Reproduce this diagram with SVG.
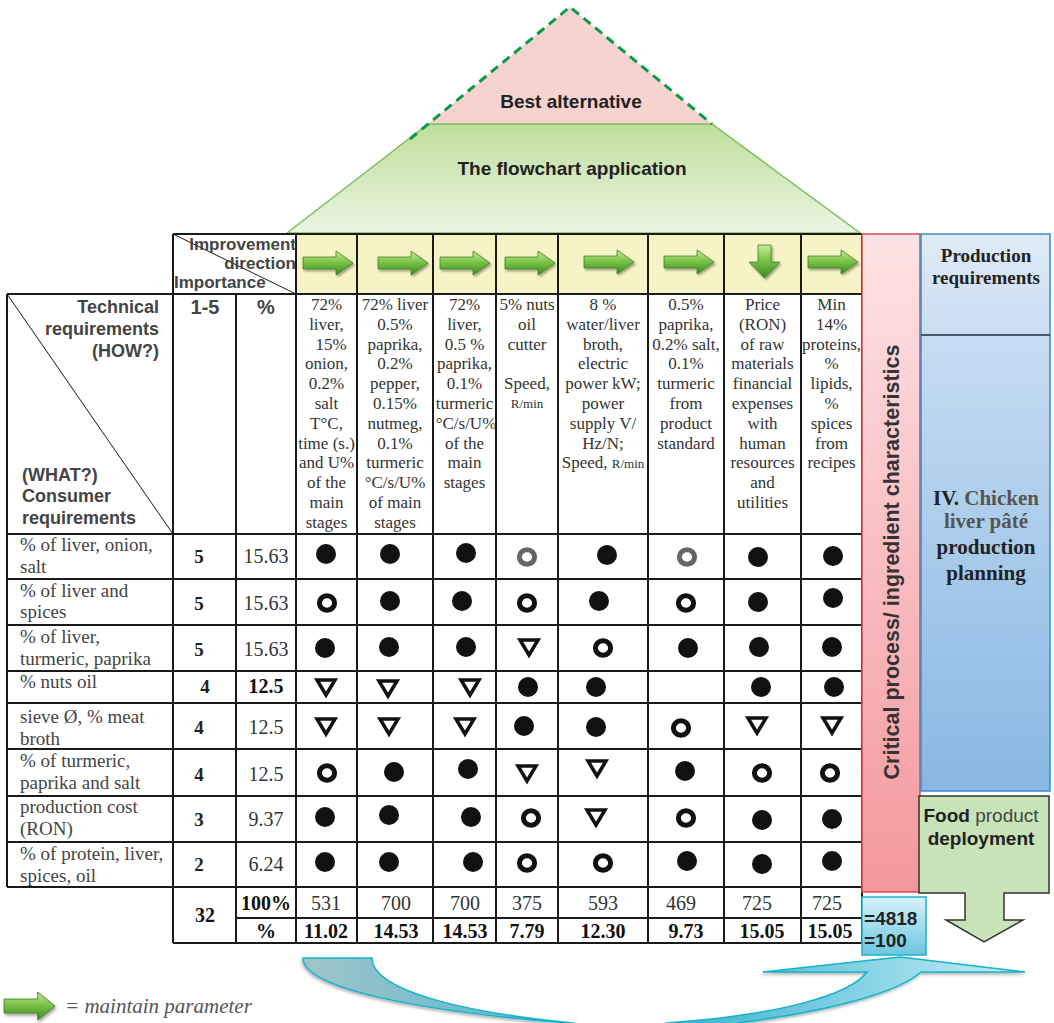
<svg xmlns="http://www.w3.org/2000/svg" width="1054" height="1023" viewBox="0 0 1054 1023">
<defs>
<linearGradient id="gArrow" x1="0" y1="0" x2="0" y2="1"><stop offset="0" stop-color="#c8ea9e"/><stop offset="0.45" stop-color="#7cc44a"/><stop offset="1" stop-color="#3d8a22"/></linearGradient>
<linearGradient id="gPink" x1="0" y1="0" x2="0" y2="1"><stop offset="0" stop-color="#fde3e5"/><stop offset="1" stop-color="#f3979c"/></linearGradient>
<linearGradient id="gBlueTop" x1="0" y1="0" x2="0" y2="1"><stop offset="0" stop-color="#dfeaf7"/><stop offset="1" stop-color="#c9ddf2"/></linearGradient>
<linearGradient id="gBlueBot" x1="0" y1="0" x2="0" y2="1"><stop offset="0" stop-color="#c6dcf2"/><stop offset="1" stop-color="#88b7e3"/></linearGradient>
<linearGradient id="gCyan" x1="0" y1="0" x2="0" y2="1"><stop offset="0" stop-color="#d8f2fa"/><stop offset="1" stop-color="#6cc6e0"/></linearGradient>
<linearGradient id="gRoof" x1="0" y1="0" x2="0" y2="1"><stop offset="0" stop-color="#bfdd9d"/><stop offset="1" stop-color="#ebf5e2"/></linearGradient>
<linearGradient id="gBig" gradientUnits="userSpaceOnUse" x1="303" y1="0" x2="1025" y2="0"><stop offset="0" stop-color="#a2c3c9"/><stop offset="0.3" stop-color="#5fbccd"/><stop offset="0.55" stop-color="#45b8d0"/><stop offset="1" stop-color="#c8edf8"/></linearGradient>
<filter id="sh" x="-20%" y="-20%" width="150%" height="160%"><feDropShadow dx="1.5" dy="2" stdDeviation="1.2" flood-color="#000" flood-opacity="0.35"/></filter>
<filter id="sh2" x="-10%" y="-30%" width="120%" height="160%"><feDropShadow dx="-1" dy="2" stdDeviation="1.5" flood-color="#000" flood-opacity="0.3"/></filter>
<path id="arR" d="M0,6 H33 V0 L50,12 L33,24 V18 H0 Z"/>
<circle id="dot" r="10"/>
<ellipse id="ring" rx="7.6" ry="7.3"/>
<path id="tri" d="M-9,-7 L9,-7 L0,8 Z"/>
<style>
.grid line{stroke:#1a1a1a;stroke-width:2}
.diag{stroke:#1a1a1a;stroke-width:1}
.ar{fill:url(#gArrow);stroke:#3f7f22;stroke-width:0.8;filter:url(#sh)}
.hd{font-family:"Liberation Serif","Times New Roman",serif;font-size:17px;fill:#333;text-anchor:middle}
.sm{font-size:13px}
.lbl{font-family:"Liberation Serif","Times New Roman",serif;font-size:19px;fill:#444}
.num{font-family:"Liberation Serif","Times New Roman",serif;font-size:20px;fill:#333;text-anchor:middle}
.imp{font-family:"Liberation Serif","Times New Roman",serif;font-size:19px;font-weight:bold;fill:#222;text-anchor:middle}
.bnum{font-family:"Liberation Serif","Times New Roman",serif;font-size:20px;font-weight:bold;fill:#111;text-anchor:middle}
.sans{font-family:"Liberation Sans",Arial,sans-serif;font-weight:bold}
.dot{fill:#111}
.ring{fill:none;stroke:#111;stroke-width:5}
.ring.g{stroke:#666}
.tri{fill:none;stroke:#111;stroke-width:3.5;stroke-linejoin:miter}
</style>
</defs>
<rect width="1054" height="1023" fill="#fff"/>

<g id="roof">
<path d="M570,7 L712,124 L428,124 Z" fill="#f7d3cf"/>
<path d="M287,233 L428,124 L712,124 L860,233 Z" fill="url(#gRoof)" stroke="#7cbf5e" stroke-width="1.5"/>
<path d="M410,139 L570,7 L712,124" fill="none" stroke="#0a9a4a" stroke-width="3" stroke-dasharray="9,6"/>
<text class="sans" x="571" y="108" font-size="19" fill="#222" text-anchor="middle">Best alternative</text>
<text class="sans" x="572" y="175" font-size="19" fill="#222" text-anchor="middle">The flowchart application</text>
</g>

<g id="table-bg">
<rect x="296" y="234" width="566" height="60" fill="#f6f4c6"/>
</g>

<g id="table-grid" class="grid">
<line x1="173" y1="234" x2="862" y2="234"/>
<line x1="7" y1="294" x2="862" y2="294"/>
<line x1="7" y1="534" x2="862" y2="534"/>
<line x1="7" y1="579" x2="862" y2="579"/>
<line x1="7" y1="625" x2="862" y2="625"/>
<line x1="7" y1="671" x2="862" y2="671"/>
<line x1="7" y1="703" x2="862" y2="703"/>
<line x1="7" y1="749" x2="862" y2="749"/>
<line x1="7" y1="796" x2="862" y2="796"/>
<line x1="7" y1="842" x2="862" y2="842"/>
<line x1="7" y1="887" x2="862" y2="887"/>
<line x1="236" y1="918" x2="862" y2="918"/>
<line x1="173" y1="943" x2="862" y2="943"/>
<line x1="7" y1="294" x2="7" y2="887"/>
<line x1="173" y1="234" x2="173" y2="943"/>
<line x1="236" y1="294" x2="236" y2="943"/>
<line x1="296" y1="234" x2="296" y2="943"/>
<line x1="357" y1="234" x2="357" y2="943"/>
<line x1="433" y1="234" x2="433" y2="943"/>
<line x1="496" y1="234" x2="496" y2="943"/>
<line x1="558" y1="234" x2="558" y2="943"/>
<line x1="648" y1="234" x2="648" y2="943"/>
<line x1="724" y1="234" x2="724" y2="943"/>
<line x1="801" y1="234" x2="801" y2="943"/>
<line x1="862" y1="234" x2="862" y2="943"/>
</g>
<line class="diag" x1="173" y1="234" x2="296" y2="294"/>
<line class="diag" x1="7" y1="294" x2="173" y2="534"/>

<g id="corner-labels" class="sans" fill="#444">
<text x="296" y="250" font-size="17" text-anchor="end">Improvement</text>
<text x="296" y="269" font-size="17" text-anchor="end">direction</text>
<text x="174" y="288" font-size="17">Importance</text>
<text x="159" y="313" font-size="18" text-anchor="end">Technical</text>
<text x="159" y="335" font-size="18" text-anchor="end">requirements</text>
<text x="159" y="357" font-size="18" text-anchor="end">(HOW?)</text>
<text x="22" y="481" font-size="18">(WHAT?)</text>
<text x="22" y="502" font-size="18">Consumer</text>
<text x="22" y="524" font-size="18">requirements</text>
<text x="205" y="314" font-size="20" text-anchor="middle">1-5</text>
<text x="266" y="314" font-size="20" text-anchor="middle">%</text>
</g>

<g id="direction-arrows">
<use href="#arR" class="ar" transform="translate(303,251)"/>
<use href="#arR" class="ar" transform="translate(378,251)"/>
<use href="#arR" class="ar" transform="translate(440,251)"/>
<use href="#arR" class="ar" transform="translate(505,251)"/>
<use href="#arR" class="ar" transform="translate(584,250)"/>
<use href="#arR" class="ar" transform="translate(664,250)"/>
<path class="ar" d="M758,245 H771 V262 H780 L764.5,278 L749,262 H758 Z"/>
<use href="#arR" class="ar" transform="translate(808,250)"/>
</g>

<g id="technical-requirements">
<text class="hd"><tspan x="326.5" y="310">72%</tspan><tspan x="326.5" y="330">liver,</tspan><tspan x="331" y="350">15%</tspan><tspan x="326.5" y="369">onion,</tspan><tspan x="326.5" y="389">0.2%</tspan><tspan x="326.5" y="409">salt</tspan><tspan x="326.5" y="429">T°C,</tspan><tspan x="326.5" y="449">time (s.)</tspan><tspan x="326.5" y="468">and U%</tspan><tspan x="326.5" y="488">of the</tspan><tspan x="326.5" y="508">main</tspan><tspan x="326.5" y="528">stages</tspan></text>
<text class="hd"><tspan x="395" y="310">72% liver</tspan><tspan x="395" y="330">0.5%</tspan><tspan x="395" y="350">paprika,</tspan><tspan x="395" y="369">0.2%</tspan><tspan x="395" y="389">pepper,</tspan><tspan x="395" y="409">0.15%</tspan><tspan x="395" y="429">nutmeg,</tspan><tspan x="395" y="449">0.1%</tspan><tspan x="395" y="468">turmeric</tspan><tspan x="395" y="488">°C/s/U%</tspan><tspan x="395" y="508">of main</tspan><tspan x="395" y="528">stages</tspan></text>
<text class="hd"><tspan x="464.5" y="310">72%</tspan><tspan x="464.5" y="330">liver,</tspan><tspan x="464.5" y="350">0.5 %</tspan><tspan x="464.5" y="369">paprika,</tspan><tspan x="464.5" y="389">0.1%</tspan><tspan x="464.5" y="409">turmeric</tspan><tspan x="466" y="429">°C/s/U%</tspan><tspan x="464.5" y="449">of the</tspan><tspan x="464.5" y="468">main</tspan><tspan x="464.5" y="488">stages</tspan></text>
<text class="hd"><tspan x="527" y="310">5% nuts</tspan><tspan x="527" y="330">oil</tspan><tspan x="527" y="350">cutter</tspan><tspan x="527" y="389">Speed,</tspan><tspan x="527" y="408" class="sm">R/min</tspan></text>
<text class="hd"><tspan x="603" y="310">8 %</tspan><tspan x="603" y="330">water/liver</tspan><tspan x="603" y="350">broth,</tspan><tspan x="603" y="369">electric</tspan><tspan x="603" y="389">power kW;</tspan><tspan x="603" y="409">power</tspan><tspan x="603" y="429">supply V/</tspan><tspan x="603" y="449">Hz/N;</tspan><tspan x="603" y="468">Speed, <tspan class="sm">R/min</tspan></tspan></text>
<text class="hd"><tspan x="686" y="310">0.5%</tspan><tspan x="686" y="330">paprika,</tspan><tspan x="686" y="350">0.2% salt,</tspan><tspan x="686" y="369">0.1%</tspan><tspan x="686" y="389">turmeric</tspan><tspan x="686" y="409">from</tspan><tspan x="686" y="429">product</tspan><tspan x="686" y="449">standard</tspan></text>
<text class="hd"><tspan x="762.5" y="310">Price</tspan><tspan x="762.5" y="330">(RON)</tspan><tspan x="762.5" y="350">of raw</tspan><tspan x="762.5" y="369">materials</tspan><tspan x="762.5" y="389">financial</tspan><tspan x="762.5" y="409">expenses</tspan><tspan x="762.5" y="429">with</tspan><tspan x="762.5" y="449">human</tspan><tspan x="762.5" y="468">resources</tspan><tspan x="762.5" y="488">and</tspan><tspan x="762.5" y="508">utilities</tspan></text>
<text class="hd"><tspan x="831.5" y="310">Min</tspan><tspan x="831.5" y="330">14%</tspan><tspan x="831.5" y="350">proteins,</tspan><tspan x="831.5" y="369">%</tspan><tspan x="831.5" y="389">lipids,</tspan><tspan x="831.5" y="409">%</tspan><tspan x="831.5" y="429">spices</tspan><tspan x="831.5" y="449">from</tspan><tspan x="831.5" y="468">recipes</tspan></text>
</g>

<g id="consumer-requirements" class="lbl">
<text x="20" y="551">% of liver, onion,</text><text x="20" y="573">salt</text>
<text x="20" y="597">% of liver and</text><text x="20" y="618">spices</text>
<text x="20" y="643">% of liver,</text><text x="20" y="665">turmeric, paprika</text>
<text x="20" y="688">% nuts oil</text>
<text x="20" y="723">sieve Ø, % meat</text><text x="20" y="745">broth</text>
<text x="20" y="767">% of turmeric,</text><text x="20" y="789">paprika and salt</text>
<text x="20" y="813">production cost</text><text x="20" y="835">(RON)</text>
<text x="20" y="860">% of protein, liver,</text><text x="20" y="882">spices, oil</text>
</g>

<g id="importance">
<text class="imp" x="199" y="563">5</text><text class="num" x="266" y="563">15.63</text>
<text class="imp" x="199" y="610">5</text><text class="num" x="266" y="610">15.63</text>
<text class="imp" x="199" y="656">5</text><text class="num" x="266" y="656">15.63</text>
<text class="imp" x="205" y="693">4</text><text class="bnum" x="266" y="693">12.5</text>
<text class="imp" x="199" y="734">4</text><text class="num" x="266" y="734">12.5</text>
<text class="imp" x="199" y="781">4</text><text class="num" x="266" y="781">12.5</text>
<text class="imp" x="199" y="826">3</text><text class="num" x="266" y="826">9.37</text>
<text class="imp" x="199" y="871">2</text><text class="num" x="266" y="871">6.24</text>
</g>

<g id="relationships">
<use href="#dot" class="dot" x="326" y="554"/><use href="#dot" class="dot" x="390" y="554"/><use href="#dot" class="dot" x="466" y="553"/><use href="#ring" class="ring g" x="527" y="557"/><use href="#dot" class="dot" x="607" y="555"/><use href="#ring" class="ring g" x="687" y="557"/><use href="#dot" class="dot" x="758" y="557"/><use href="#dot" class="dot" x="833" y="556"/>
<use href="#ring" class="ring" x="327" y="603"/><use href="#dot" class="dot" x="390" y="601"/><use href="#dot" class="dot" x="462" y="601"/><use href="#ring" class="ring" x="527" y="603"/><use href="#dot" class="dot" x="599" y="601"/><use href="#ring" class="ring" x="686" y="603"/><use href="#dot" class="dot" x="758" y="602"/><use href="#dot" class="dot" x="833" y="598"/>
<use href="#dot" class="dot" x="325" y="648"/><use href="#dot" class="dot" x="389" y="647"/><use href="#dot" class="dot" x="466" y="647"/><use href="#tri" class="tri" x="529" y="647"/><use href="#ring" class="ring" x="603" y="648"/><use href="#dot" class="dot" x="688" y="648"/><use href="#dot" class="dot" x="759" y="647"/><use href="#dot" class="dot" x="832" y="647"/>
<use href="#tri" class="tri" x="326" y="687"/><use href="#tri" class="tri" x="388" y="688"/><use href="#tri" class="tri" x="470" y="687"/><use href="#dot" class="dot" x="528" y="687"/><use href="#dot" class="dot" x="596" y="687"/><use href="#dot" class="dot" x="761" y="687"/><use href="#dot" class="dot" x="834" y="687"/>
<use href="#tri" class="tri" x="326" y="726"/><use href="#tri" class="tri" x="389" y="726"/><use href="#tri" class="tri" x="465" y="726"/><use href="#dot" class="dot" x="524" y="726"/><use href="#dot" class="dot" x="596" y="727"/><use href="#ring" class="ring" x="681" y="728"/><use href="#tri" class="tri" x="757" y="725"/><use href="#tri" class="tri" x="832" y="725"/>
<use href="#ring" class="ring" x="327" y="773"/><use href="#dot" class="dot" x="394" y="772"/><use href="#dot" class="dot" x="468" y="769"/><use href="#tri" class="tri" x="527" y="773"/><use href="#tri" class="tri" x="597" y="768"/><use href="#dot" class="dot" x="685" y="771"/><use href="#ring" class="ring" x="762" y="773"/><use href="#ring" class="ring" x="830" y="773"/>
<use href="#dot" class="dot" x="325" y="817"/><use href="#dot" class="dot" x="389" y="815"/><use href="#dot" class="dot" x="471" y="817"/><use href="#ring" class="ring" x="531" y="818"/><use href="#tri" class="tri" x="596" y="817"/><use href="#ring" class="ring" x="686" y="818"/><use href="#dot" class="dot" x="762" y="820"/><use href="#dot" class="dot" x="832" y="819"/>
<use href="#dot" class="dot" x="325" y="862"/><use href="#dot" class="dot" x="389" y="862"/><use href="#dot" class="dot" x="473" y="862"/><use href="#ring" class="ring" x="527" y="863"/><use href="#ring" class="ring" x="603" y="863"/><use href="#dot" class="dot" x="687" y="861"/><use href="#dot" class="dot" x="762" y="864"/><use href="#dot" class="dot" x="832" y="861"/>
</g>

<g id="totals">
<text class="bnum" x="205" y="922">32</text>
<text class="bnum" x="266" y="910" font-size="19">100%</text>
<text class="num" x="326" y="910">531</text><text class="num" x="396" y="910">700</text><text class="num" x="465" y="910">700</text><text class="num" x="527" y="910">375</text><text class="num" x="603" y="910">593</text><text class="num" x="681" y="910">469</text><text class="num" x="757" y="910">725</text><text class="num" x="827" y="910">725</text>
<text class="bnum" x="266" y="938">%</text>
<text class="bnum" x="326" y="938">11.02</text><text class="bnum" x="396" y="938">14.53</text><text class="bnum" x="465" y="938">14.53</text><text class="bnum" x="527" y="938">7.79</text><text class="bnum" x="603" y="938">12.30</text><text class="bnum" x="686" y="938">9.73</text><text class="bnum" x="762" y="938">15.05</text><text class="bnum" x="830" y="938">15.05</text>
</g>

<g id="critical-column">
<rect x="862" y="234" width="58" height="658" fill="url(#gPink)" stroke="#d44a50" stroke-width="1.5"/>
<text class="sans" transform="translate(899,562) rotate(-90)" font-size="21.5" fill="#333" text-anchor="middle">Critical process/ ingredient characteristics</text>
</g>

<g id="production-requirements">
<rect x="921" y="234" width="129" height="101" fill="url(#gBlueTop)" stroke="#3a8cc8" stroke-width="1.5"/>
<text font-family="Liberation Serif, serif" font-weight="bold" font-size="19" fill="#222" text-anchor="middle"><tspan x="986" y="262">Production</tspan><tspan x="986" y="284">requirements</tspan></text>
</g>

<g id="production-planning">
<rect x="921" y="335" width="129" height="456" fill="url(#gBlueBot)" stroke="#3a8cc8" stroke-width="1.5"/>
<line x1="921" y1="335" x2="1050" y2="335" stroke="#444" stroke-width="1.5"/>
<text font-family="Liberation Serif, serif" font-weight="bold" font-size="21" text-anchor="middle"><tspan x="986" y="505" fill="#222">IV. <tspan fill="#555">Chicken</tspan></tspan><tspan x="986" y="528" fill="#555">liver pâté</tspan><tspan x="986" y="554" fill="#222">production</tspan><tspan x="986" y="580" fill="#222">planning</tspan></text>
</g>

<g id="food-deployment">
<path d="M919,796 H1049 V893 H1004 V920 H1023 L984,942 L946,920 H965 V893 H919 Z" fill="#c9e3b8" stroke="#333" stroke-width="1.5"/>
<text font-family="Liberation Sans, Arial, sans-serif" font-size="19" fill="#222" text-anchor="middle"><tspan x="981" y="822"><tspan font-weight="bold">Food</tspan> <tspan fill="#444">product</tspan></tspan><tspan x="981" y="845" font-weight="bold">deployment</tspan></text>
</g>

<g id="sum-box">
<rect x="862" y="897" width="64" height="58" fill="url(#gCyan)" stroke="#1fb0c8" stroke-width="1.5"/>
<text class="sans" font-size="19" fill="#222"><tspan x="864" y="925">=4818</tspan><tspan x="864" y="947">=100</tspan></text>
</g>

<g id="connectors">
<path d="M303,958 H372 C372,990 460,1012 573,1023 C600,1032 640,1032 667,1023 C780,1015 850,995 867,972 H763 L900,957 L1025,972 H921 C895,995 820,1012 739,1023 C680,1040 620,1040 567,1023 C430,1012 303,990 303,958 Z" fill="url(#gBig)" stroke="#14b2cc" stroke-width="1.5" filter="url(#sh2)"/>
</g>

<g id="legend">
<use href="#arR" class="ar" transform="translate(4,992) scale(1.02,1.17)"/>
<text x="65" y="1013" font-family="Liberation Serif, serif" font-style="italic" font-size="21" fill="#555">= maintain parameter</text>
</g>
</svg>
